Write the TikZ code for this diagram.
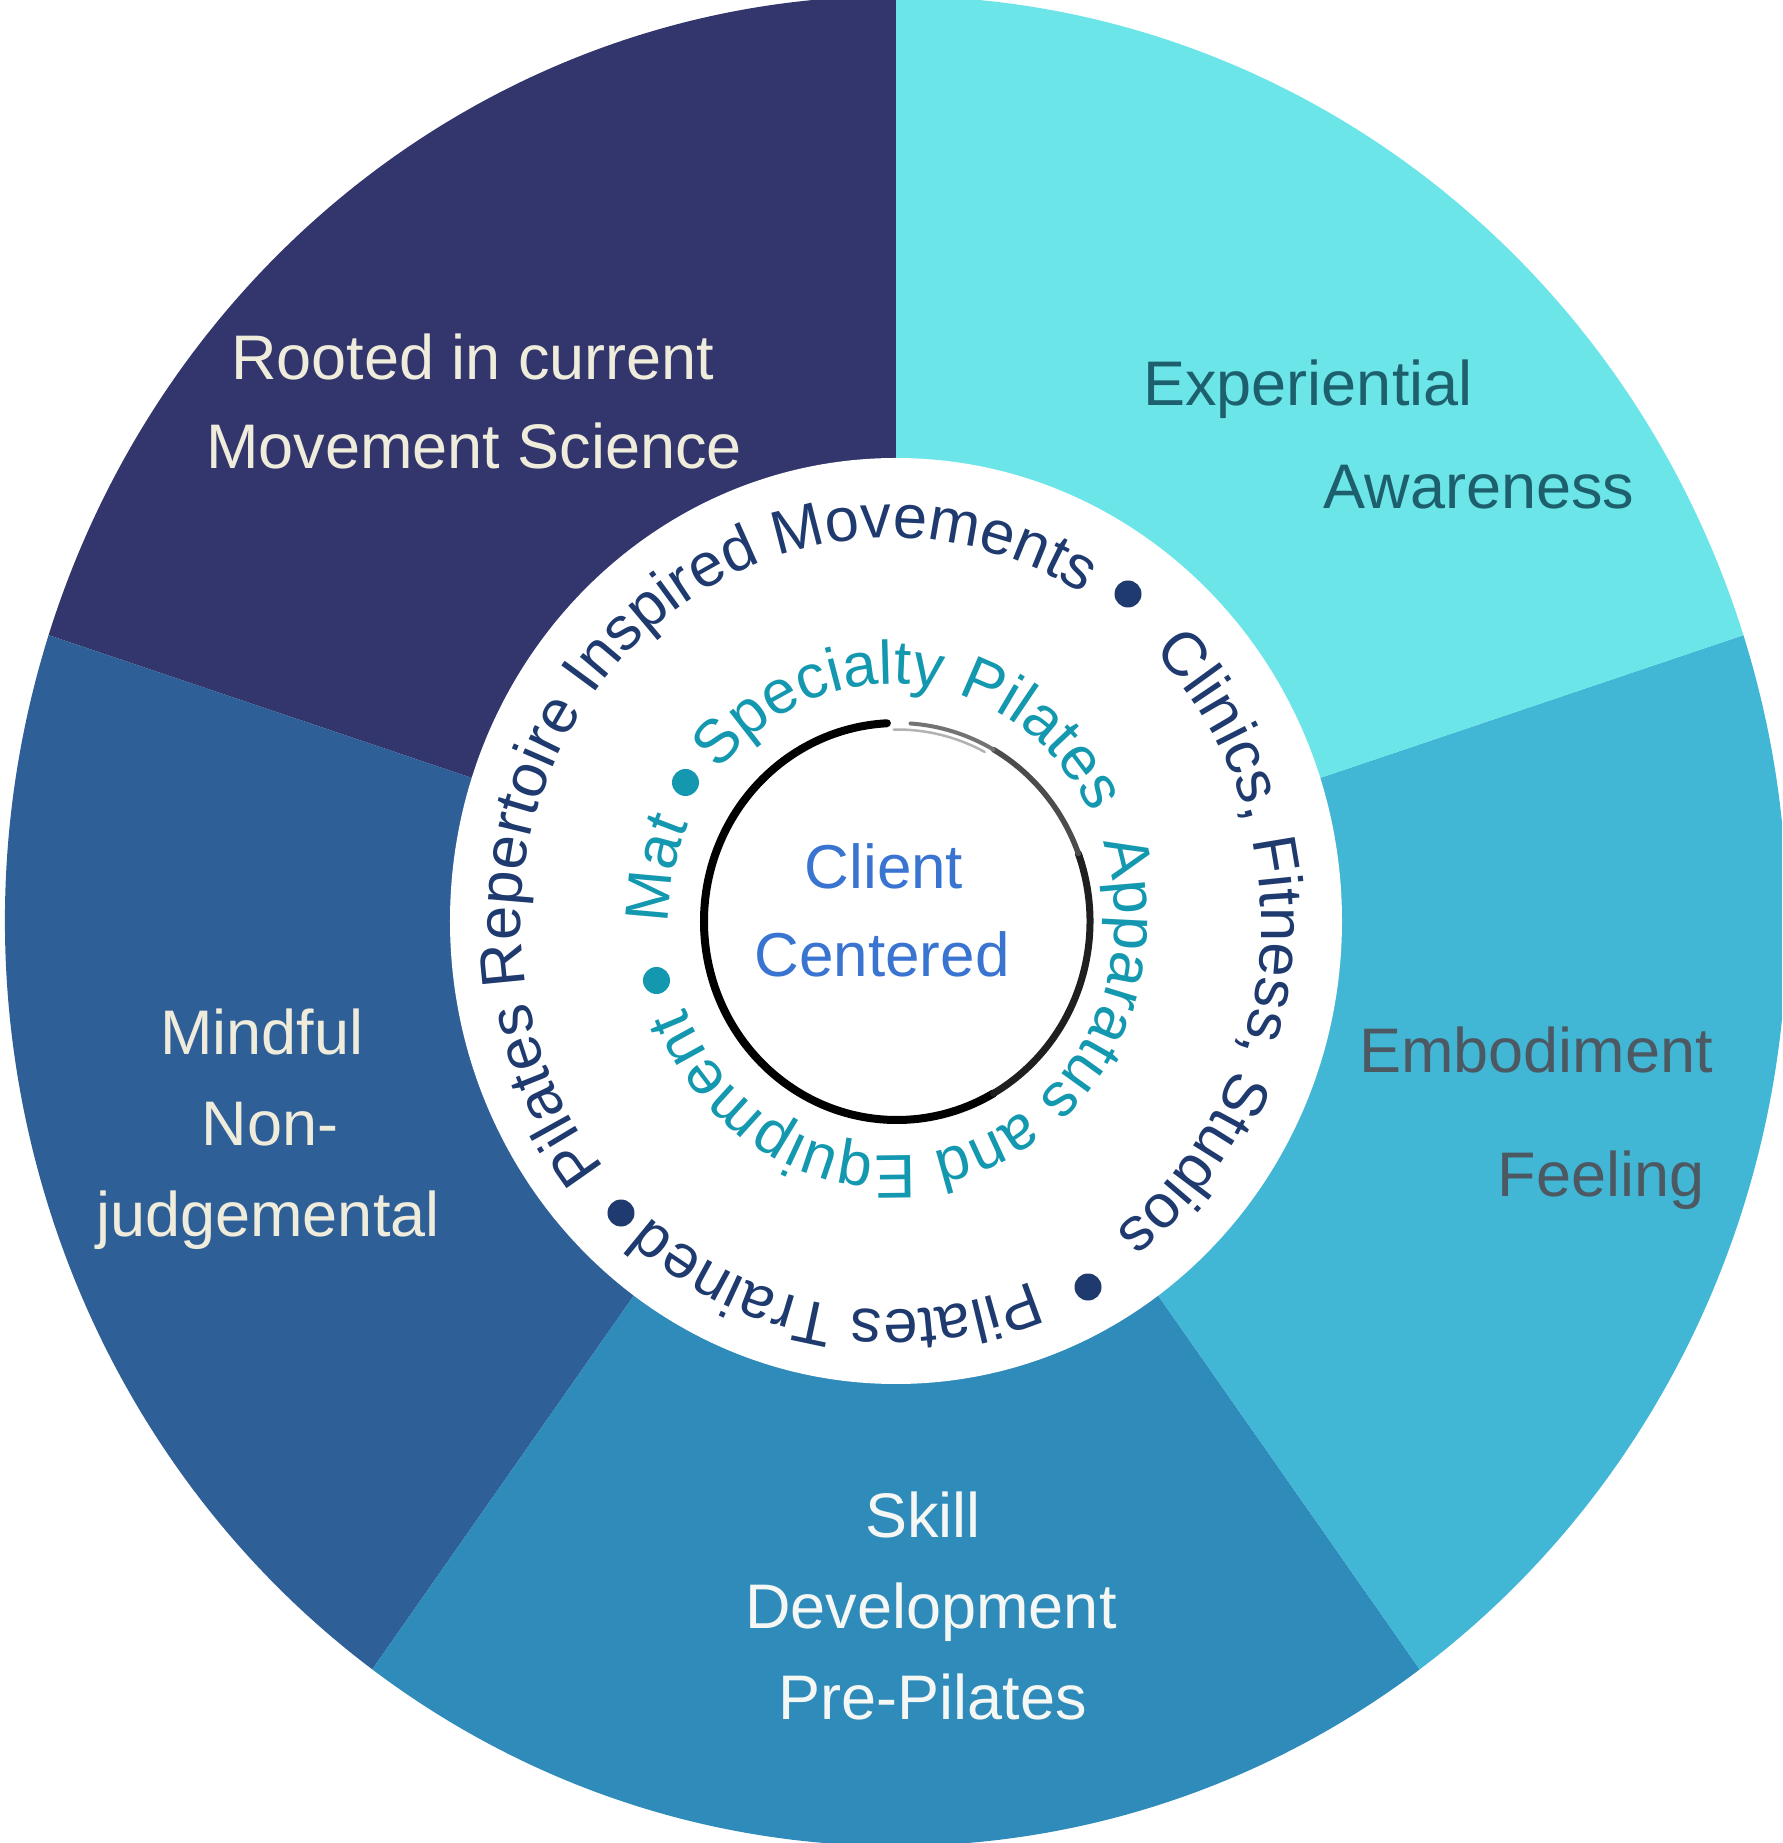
\documentclass[tikz,border=0pt]{standalone}
\usepackage{fontspec}
\setmainfont{Liberation Sans}
\usetikzlibrary{decorations.text}
\definecolor{wNavy}{HTML}{32366C}
\definecolor{wCyan}{HTML}{6CE5E8}
\definecolor{wSky}{HTML}{42B6D5}
\definecolor{wBlue}{HTML}{2E8BBA}
\definecolor{wSteel}{HTML}{2F5F97}
\definecolor{tCream}{HTML}{EFECDC}
\definecolor{tTeal}{HTML}{1D5F6C}
\definecolor{tGray}{HTML}{4D5962}
\definecolor{tWhite}{HTML}{F5F7F5}
\definecolor{ringNavy}{HTML}{1E3A6E}
\definecolor{ringTeal}{HTML}{1398AF}
\definecolor{cBlue}{HTML}{3A74D1}
\newcommand\wedgefont{\fontsize{63}{70}\selectfont}
\newcommand\ringfont{\fontsize{61.5}{70}\selectfont}
\newcommand\centrefont{\fontsize{62}{70}\selectfont}
\begin{document}
\begin{tikzpicture}[x=1pt,y=1pt,
  wlabel/.style={anchor=base, inner sep=0pt, font=\wedgefont},
  clabel/.style={anchor=base, inner sep=0pt, font=\centrefont, text=cBlue},
  outertext/.style={decorate, decoration={text along path, text align=center, text color=ringNavy, text={|\ringfont|#1}}},
  innertext/.style={decorate, decoration={text along path, text align=center, text color=ringTeal, text={|\ringfont|#1}}},
  ndot/.style={circle, fill=ringNavy, inner sep=0pt, minimum size=27pt},
  tdot/.style={circle, fill=ringTeal, inner sep=0pt, minimum size=27pt}]
\useasboundingbox (-896,-922) rectangle (886,921);
\clip (-896,-922) rectangle (886,921);
\fill[white] (-896,-922) rectangle (886,921);
% wedges
\fill[wNavy] (0,0) -- (90:891pt and 925pt) arc[start angle=90, end angle=162, x radius=891pt, y radius=925pt] -- cycle;
\fill[wSteel] (0,0) -- (162:891pt and 925pt) arc[start angle=162, end angle=234, x radius=891pt, y radius=925pt] -- cycle;
\fill[wBlue] (0,0) -- (234:891pt and 925pt) arc[start angle=234, end angle=306, x radius=891pt, y radius=925pt] -- cycle;
\fill[wSky] (0,0) -- (306:891pt and 925pt) arc[start angle=306, end angle=378, x radius=891pt, y radius=925pt] -- cycle;
\fill[wCyan] (0,0) -- (18:891pt and 925pt) arc[start angle=18, end angle=90, x radius=891pt, y radius=925pt] -- cycle;
% inner white disc
\fill[white] (0,0) ellipse[x radius=446pt, y radius=463pt];
% wedge labels
\node[wlabel, text=tCream] (ra) at (-423,541) {Rooted in current};
\node[wlabel, text=tCream] (rb) at (-422,452) {Movement Science};
\node[wlabel, text=tTeal] (ea) at (412,515) {Experiential};
\node[wlabel, text=tTeal] (eb) at (583,412) {Awareness};
\node[wlabel, text=tGray] (ma) at (640,-152) {Embodiment};
\node[wlabel, text=tGray] (mb) at (705,-275) {Feeling};
\node[wlabel, text=tCream] (na) at (-634,-134) {Mindful};
\node[wlabel, text=tCream] (nb) at (-626,-224) {Non-};
\node[wlabel, text=tCream] (nc) at (-628,-315) {judgemental};
\node[wlabel, text=tWhite] (sa) at (27,-616) {Skill};
\node[wlabel, text=tWhite] (sb) at (35,-707) {Development};
\node[wlabel, text=tWhite] (sc) at (37,-798) {Pre-Pilates};
% outer ring text
\begin{scope}[shift={(-5,-3)}]
\path[outertext={Pilates Repertoire Inspired Movements}] (239:370pt and 386pt) arc[start angle=239, end angle=39, x radius=370pt, y radius=386pt];
\path[outertext={Clinics, Fitness, Studios}] (61:370pt and 386pt) arc[start angle=61, end angle=-69, x radius=370pt, y radius=386pt];
\path[outertext={Pilates Trained}] (-54:370pt and 386pt) arc[start angle=-54, end angle=-144, x radius=370pt, y radius=386pt];
\end{scope}
\node[ndot] (d1) at (232,327) {};
\node[ndot] (d2) at (192,-366) {};
\node[ndot] (d3) at (-275,-292) {};
% inner ring text
\begin{scope}[shift={(-4,1)}]
\path[innertext={Mat}] (193.25:223pt and 236pt) arc[start angle=193.25, end angle=143.25, x radius=223pt, y radius=236pt];
\path[innertext={Specialty Pilates}] (153.9:223pt and 236pt) arc[start angle=153.9, end angle=13.9, x radius=223pt, y radius=236pt];
\path[innertext={Apparatus and Equipment}] (35.7:223pt and 236pt) arc[start angle=35.7, end angle=-174.3, x radius=223pt, y radius=236pt];
\end{scope}
\node[tdot] (t1) at (-210.5,138.5) {};
\node[tdot] (t2) at (-239.5,-59.5) {};
% brush ring
\begin{scope}[shift={(1,-0.5)}, line cap=round]
\draw[black, line width=8pt] (93:193pt and 198.5pt) arc[start angle=93, end angle=300, x radius=193pt, y radius=198.5pt];
\draw[black!88, line width=7pt] (300:193pt and 198.5pt) arc[start angle=300, end angle=380, x radius=193pt, y radius=198.5pt];
\draw[black!70, line width=5.5pt] (20:193pt and 198.5pt) arc[start angle=20, end angle=60, x radius=193pt, y radius=198.5pt];
\draw[black!55, line width=4pt] (60:193pt and 198.5pt) arc[start angle=60, end angle=86, x radius=193pt, y radius=198.5pt];
\draw[black!30, line width=2.5pt] (62:187pt and 192pt) arc[start angle=62, end angle=91, x radius=187pt, y radius=192pt];
\end{scope}
% centre text
\node[clabel] (cl1) at (-12,32) {Client};
\node[clabel] (cl2) at (-14,-56) {Centered};
\end{tikzpicture}
\end{document}
